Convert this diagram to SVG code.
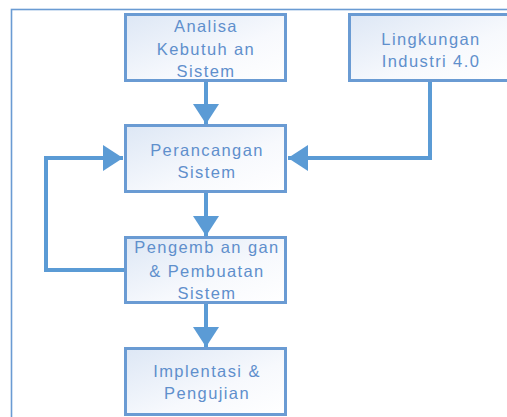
<svg xmlns="http://www.w3.org/2000/svg" width="507" height="417" viewBox="0 0 507 417">
  <defs>
    <linearGradient id="boxFill" x1="0" y1="0" x2="1" y2="1">
      <stop offset="0" stop-color="#dde7f5"/>
      <stop offset="0.6" stop-color="#f7f9fd"/>
      <stop offset="1" stop-color="#ffffff"/>
    </linearGradient>
    <marker id="head" viewBox="0 0 20 26" refX="20" refY="13" markerWidth="20" markerHeight="26" markerUnits="userSpaceOnUse" orient="auto">
      <path d="M0,0 L20,13 L0,26 Z" fill="#5b9bd5"/>
    </marker>
    <style>
      .box { fill: url(#boxFill); stroke: #6a9bd3; stroke-width: 3; }
      .label { font-family: "Liberation Sans", Arial, sans-serif; font-size: 16.5px; fill: #5f8fcc; text-anchor: middle; letter-spacing: 1.4px; }
      .link { fill: none; stroke: #5b9bd5; stroke-width: 4; marker-end: url(#head); }
      .frame { fill: none; stroke: #6a9bd3; stroke-width: 1.6; }
    </style>
  </defs>

  <rect class="frame" x="11.5" y="9.5" width="510" height="420"/>

  <g id="connectors">
    <path class="link" d="M206,82 V124"/>
    <path class="link" d="M430,82 V158 H288"/>
    <path class="link" d="M206,193 V236"/>
    <path class="link" d="M124,270 H46 V158 H123"/>
    <path class="link" d="M206,304 V347"/>
  </g>

  <g id="analisa">
    <rect class="box" x="125.5" y="14.5" width="160" height="66"/>
    <text class="label" x="206" y="32">Analisa</text>
    <text class="label" x="206" y="55">Kebutuh an</text>
    <text class="label" x="206" y="77">Sistem</text>
  </g>

  <g id="lingkungan">
    <rect class="box" x="349.5" y="14.5" width="161" height="66"/>
    <text class="label" x="431" y="45">Lingkungan</text>
    <text class="label" x="431" y="67">Industri 4.0</text>
  </g>

  <g id="perancangan">
    <rect class="box" x="125.5" y="125.5" width="160" height="66"/>
    <text class="label" x="207" y="156">Perancangan</text>
    <text class="label" x="207" y="178">Sistem</text>
  </g>

  <g id="pengembangan">
    <rect class="box" x="125.5" y="237.5" width="160" height="65"/>
    <text class="label" x="207" y="253">Pengemb an gan</text>
    <text class="label" x="207" y="277">&amp; Pembuatan</text>
    <text class="label" x="207" y="299">Sistem</text>
  </g>

  <g id="implentasi">
    <rect class="box" x="125.5" y="348.5" width="160" height="66"/>
    <text class="label" x="207" y="377">Implentasi &amp;</text>
    <text class="label" x="207" y="399">Pengujian</text>
  </g>
</svg>
